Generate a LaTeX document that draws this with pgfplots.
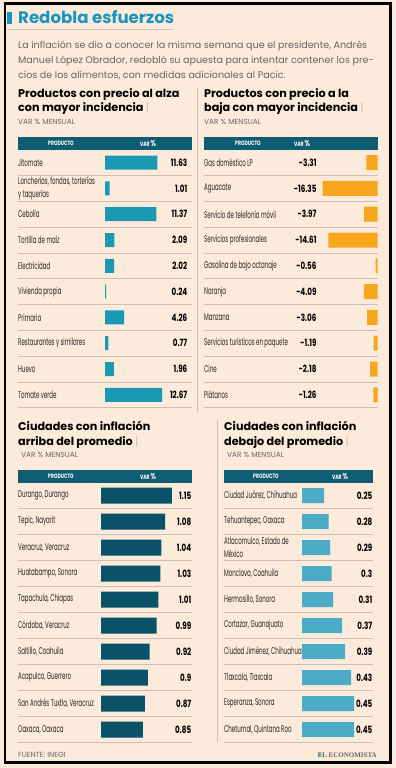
\documentclass[border=0pt]{standalone}
\usepackage{fontspec}
\usepackage{pgfplots}
\usepackage{pgfplotstable}
\pgfplotsset{compat=1.18}
\setmainfont{Poppins}
\newfontfamily\condr{Poppins}[FakeStretch=0.56]
\newfontfamily\condb{Poppins}[FakeStretch=0.72]
\newfontfamily\serifb{Liberation Serif}
\definecolor{bg}{HTML}{FCEADB}
\definecolor{titleblue}{HTML}{1996BD}
\definecolor{cA}{HTML}{1B98B2}
\definecolor{cB}{HTML}{F7A61E}
\definecolor{cC}{HTML}{0A5268}
\definecolor{cD}{HTML}{4CABC7}
\definecolor{hdr}{HTML}{0E5D73}
\definecolor{sepc}{HTML}{C9BFB6}
\definecolor{bodyc}{HTML}{666666}
\definecolor{labc}{HTML}{262626}

\pgfplotstableread{
r v
0 11.63
1 1.01
2 11.37
3 2.09
4 2.02
5 0.24
6 4.26
7 0.77
8 1.96
9 12.67
}\tabA
\pgfplotstableread{
r v
0 -3.31
1 -16.35
2 -3.97
3 -14.61
4 -0.56
5 -4.09
6 -3.06
7 -1.19
8 -2.18
9 -1.26
}\tabB
\pgfplotstableread{
r v
0 1.15
1 1.08
2 1.04
3 1.03
4 1.01
5 0.99
6 0.92
7 0.9
8 0.87
9 0.85
}\tabC
\pgfplotstableread{
r v
0 0.25
1 0.28
2 0.29
3 0.3
4 0.31
5 0.37
6 0.39
7 0.43
8 0.45
9 0.45
}\tabD

\pgfplotsset{
  frameax/.style={scale only axis, anchor=north west,
    axis line style={draw=none}, xtick=\empty, ytick={0,...,9},
    minor ytick={0.5,1.5,...,9.5}, yminorgrids,
    minor grid style={sepc, line width=0.6pt},
    major tick length=0pt, minor tick length=0pt,
    ymin=-0.5, ymax=9.5, y dir=reverse, clip=false,
    yticklabel style={anchor=west, inner xsep=0pt, align=left,
      font=\condr\fontsize{9.8}{13}\selectfont, text=labc},
    every node near coord/.append style={anchor=east, inner xsep=0pt,
      font=\condb\bfseries\fontsize{10}{10}\selectfont, text=black}},
  barax/.style={scale only axis, anchor=north west, hide axis,
    ymin=-0.5, ymax=9.5, y dir=reverse},
  vals/.style={only marks, mark=none, nodes near coords, point meta=explicit symbolic},
}

\begin{document}
\begin{tikzpicture}[x=1pt,y=-1pt]
\fill[bg] (0,0) rectangle (396,768);
\draw[black, line width=2.2pt] (5,3.5) rectangle (390.5,762.5);

% title
\fill[titleblue] (7,12) rectangle (12,24);
\node[anchor=base west, inner sep=0pt, text=titleblue,
  font=\bfseries\fontsize{16.6}{16.6}\selectfont] at (18,23.5) {Redobla esfuerzos};
\draw[sepc, line width=0.8pt] (7,29.5) -- (173,29.5);

\begin{scope}[every node/.style={anchor=base west, inner sep=0pt, text=bodyc,
  font=\fontsize{9.55}{9.55}\selectfont}]
\node at (18,48.5) {La inflación se dio a conocer la misma semana que el presidente, Andrés};
\node at (18,63.5) {Manuel López Obrador, redobló su apuesta para intentar contener los pre-};
\node at (18,78.5) {cios de los alimentos, con medidas adicionales al Pacic.};
\end{scope}

% headings
\begin{scope}[every node/.style={anchor=base west, inner sep=0pt, text=black,
  font=\bfseries\fontsize{11.2}{11.2}\selectfont}]
\node at (18,97.5) {Productos con precio al alza};
\node at (18,111.5) {con mayor incidencia {\mdseries\color{sepc}|}};
\node at (204,97.5) {Productos con precio a la};
\node at (204,111.5) {baja con mayor incidencia {\mdseries\color{sepc}|}};
\node at (18,430) {Ciudades con inflación};
\node at (18,445) {arriba del promedio {\mdseries\color{sepc}|}};
\node at (224,430) {Ciudades con inflación};
\node at (224,445) {debajo del promedio {\mdseries\color{sepc}|}};
\end{scope}
\begin{scope}[every node/.style={anchor=base west, inner sep=0pt, text=bodyc,
  font=\fontsize{7.4}{7.4}\selectfont}]
\node at (18,124) {VAR \% MENSUAL};
\node at (204,124) {VAR \% MENSUAL};
\node at (21,457.5) {VAR \% MENSUAL};
\node at (227,457.5) {VAR \% MENSUAL};
\node at (18,757.5) {FUENTE: INEGI};
\end{scope}
\fill[cD!60] (320,754.5) circle (2pt);
\node[anchor=base east, inner sep=0pt, text=bodyc, font=\serifb\bfseries\fontsize{7}{7}\selectfont] at (377,757) {EL ECONOMISTA};

% dividers
\draw[sepc, line width=0.6pt] (197.5,88) -- (197.5,412);
\draw[sepc, line width=0.6pt] (217.5,420) -- (217.5,742);

% header bars
\fill[hdr] (18,137) rectangle (192,149.5);
\fill[hdr] (204,137) rectangle (377.5,149.5);
\fill[hdr] (18,470) rectangle (192,482.5);
\fill[hdr] (224,470) rectangle (373,482.5);
\begin{scope}[every node/.style={inner sep=0pt, text=white,
  font=\condb\bfseries\fontsize{6.3}{6.3}\selectfont}]
\node at (61,143.5) {PRODUCTO};
\node at (148,143.5) {VAR {\fontsize{8.5}{8.5}\selectfont\%}};
\node at (248,143.5) {PRODUCTO};
\node at (302,143.5) {VAR {\fontsize{8.5}{8.5}\selectfont\%}};
\node at (61,476.5) {PRODUCTO};
\node at (148,476.5) {VAR {\fontsize{8.5}{8.5}\selectfont\%}};
\node at (266,476.5) {PRODUCTO};
\node at (340,476.5) {VAR {\fontsize{8.5}{8.5}\selectfont\%}};
\end{scope}

% ---- top left
\begin{axis}[frameax, at={(18pt,-149.7pt)}, width=174pt, height=258pt,
  xmin=18, xmax=192,
  yticklabels={{Jitomate},{Loncherías, fondas, torterías\\y taquerías},{Cebolla},{Tortilla de maíz},{Electricidad},{Vivienda propia},{Primaria},{Restaurantes y similares},{Huevo},{Tomate verde}}]
\addplot[vals] table[x expr=187.5, y=r, meta=v] {\tabA};
\end{axis}
\begin{axis}[barax, at={(105pt,-149.7pt)}, width=58.63pt, height=258pt, xmin=0, xmax=13]
\addplot[xbar, bar width=14pt, fill=cA, draw=none] table[x=v, y=r] {\tabA};
\end{axis}

% ---- top right
\begin{axis}[frameax, at={(204pt,-149.7pt)}, width=173.5pt, height=258pt,
  xmin=204, xmax=377.5,
  yticklabels={{Gas doméstico LP},{Aguacate},{Servicio de telefonía móvil},{Servicios profesionales},{Gasolina de bajo octanaje},{Naranja},{Manzana},{Servicios turísticos en paquete},{Cine},{Plátanos}}]
\addplot[vals] table[x expr=316.7, y=r, meta=v] {\tabB};
\end{axis}
\begin{axis}[barax, at={(322.06pt,-149.7pt)}, width=55.44pt, height=258pt, xmin=-16.5, xmax=0]
\addplot[xbar, bar width=15pt, fill=cB, draw=none] table[x=v, y=r] {\tabB};
\end{axis}

% ---- bottom left
\begin{axis}[frameax, at={(18pt,-482.5pt)}, width=174pt, height=260pt,
  xmin=18, xmax=192,
  yticklabels={{Durango, Durango},{Tepic, Nayarit},{Veracruz, Veracruz},{Huatabampo, Sonora},{Tapachula, Chiapas},{Córdoba, Veracruz},{Saltillo, Coahuila},{Acapulco, Guerrero},{San Andrés Tuxtla, Veracruz},{Oaxaca, Oaxaca}}]
\addplot[vals] table[x expr=191.5, y=r, meta=v] {\tabC};
\end{axis}
\begin{axis}[barax, at={(101pt,-482.5pt)}, width=91pt, height=260pt, xmin=0.416, xmax=1.357]
\addplot[xbar, bar width=16pt, fill=cC, draw=none] table[x=v, y=r] {\tabC};
\end{axis}

% ---- bottom right
\begin{axis}[frameax, at={(224pt,-482.5pt)}, width=149pt, height=260pt,
  xmin=224, xmax=373,
  yticklabels={{Ciudad Juárez, Chihuahua},{Tehuantepec, Oaxaca},{Atlacomulco, Estado de\\México},{Monclova, Coahuila},{Hermosillo, Sonora},{Cortazar, Guanajuato},{Ciudad Jiménez, Chihuahua},{Tlaxcala, Tlaxcala},{Esperanza, Sonora},{Chetumal, Quintana Roo}}]
\addplot[vals] table[x expr=372.5, y=r, meta=v] {\tabD};
\end{axis}
\begin{axis}[barax, at={(302pt,-482.5pt)}, width=71pt, height=260pt, xmin=0.1033, xmax=0.5767]
\addplot[xbar, bar width=15pt, fill=cD, draw=none] table[x=v, y=r] {\tabD};
\end{axis}
\end{tikzpicture}
\end{document}
